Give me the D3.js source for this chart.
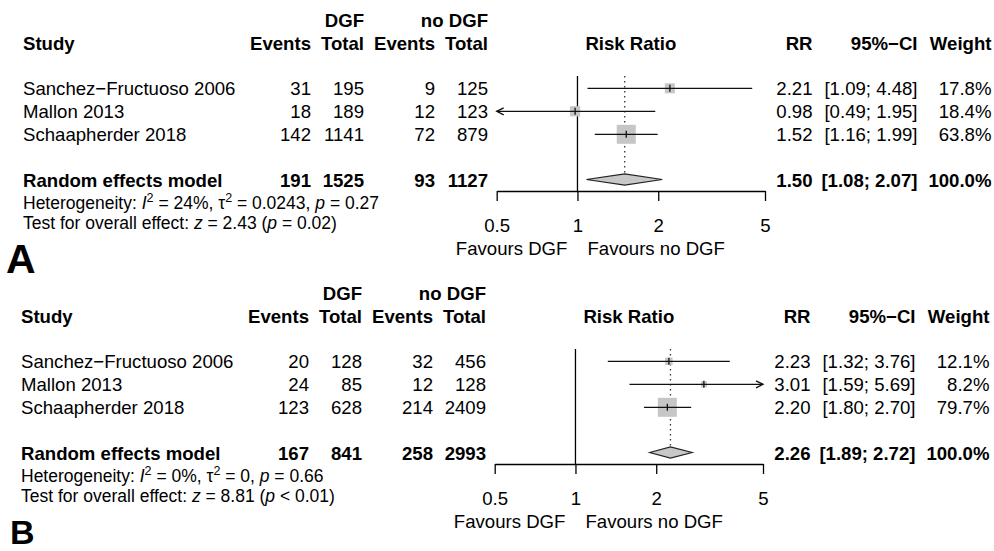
<!DOCTYPE html>
<html>
<head>
<meta charset="utf-8">
<script src="https://cdn.jsdelivr.net/npm/d3@7"></script>
<style>
  body { margin: 0; background: #fff; }
  text { font-family: "Liberation Sans", Arial, Helvetica, sans-serif; fill: #000; }
</style>
</head>
<body>
<div id="chart"></div>
<script>
const width = 994, height = 551;

// ---- data ----
const studies = ["Sanchez\u2212Fructuoso 2006", "Mallon 2013", "Schaapherder 2018"];
const rrTicks = [0.5, 1, 2, 5];

// panel A
const aEventsDGF = [31, 18, 142], aTotalDGF = [195, 189, 1141];
const aEventsNo = [9, 12, 72], aTotalNo = [125, 123, 879];
const aRR = [2.21, 0.98, 1.52], aLower = [1.09, 0.49, 1.16], aUpper = [4.48, 1.95, 1.99];
const aWeight = [17.8, 18.4, 63.8];
const aPooled = {eventsDGF: 191, totalDGF: 1525, eventsNo: 93, totalNo: 1127, rr: 1.50, lower: 1.08, upper: 2.07, weight: 100.0};
const aHet = {i2: "24%", tau2: "0.0243", p: "= 0.27", z: "2.43", pz: "= 0.02"};

// panel B
const bEventsDGF = [20, 24, 123], bTotalDGF = [128, 85, 628];
const bEventsNo = [32, 12, 214], bTotalNo = [456, 128, 2409];
const bRR = [2.23, 3.01, 2.20], bLower = [1.32, 1.59, 1.80], bUpper = [3.76, 5.69, 2.70];
const bWeight = [12.1, 8.2, 79.7];
const bPooled = {eventsDGF: 167, totalDGF: 841, eventsNo: 258, totalNo: 2993, rr: 2.26, lower: 1.89, upper: 2.72, weight: 100.0};
const bHet = {i2: "0%", tau2: "0", p: "= 0.66", z: "8.81", pz: "< 0.01"};

const svg = d3.select("#chart").append("svg")
  .attr("width", width)
  .attr("height", height);

const fs = 18.6, fsHet = 17.5;
const cols = {study: 23, eventsDGF: 311, totalDGF: 364, eventsNo: 435, totalNo: 488, rr: 812.5, ci: 917.5, weight: 991.5};
const x = d3.scaleLog().domain([0.5, 5]).range([496.7, 765]);
const y = d3.scaleLinear().domain([0, 4]).range([88.3, 180.3]);
const axisY = 191;
const f2 = d3.format(".2f"), f1 = d3.format(".1f");

function drawPanel(dx, dy, p) {
  const g = svg.append("g").attr("transform", `translate(${dx},${dy})`);

  const txt = (xx, yy, s, anchor, bold, size) => g.append("text")
    .attr("x", xx).attr("y", yy)
    .attr("text-anchor", anchor || "start")
    .attr("font-weight", bold ? "bold" : "normal")
    .attr("font-size", size || fs)
    .text(s);

  // headers
  txt(cols.totalDGF, 27.3, "DGF", "end", true);
  txt(cols.totalNo, 27.3, "no DGF", "end", true);
  txt(cols.study, 50, "Study", "start", true);
  txt(cols.eventsDGF, 50, "Events", "end", true);
  txt(cols.totalDGF, 50, "Total", "end", true);
  txt(cols.eventsNo, 50, "Events", "end", true);
  txt(cols.totalNo, 50, "Total", "end", true);
  txt((x(0.5) + x(5)) / 2, 50, "Risk Ratio", "middle", true);
  txt(cols.rr, 50, "RR", "end", true);
  txt(cols.ci, 50, "95%\u2212CI", "end", true);
  txt(cols.weight, 50, "Weight", "end", true);

  // study rows
  studies.forEach((s, i) => {
    const yb = y(i) + 6.6;
    txt(cols.study, yb, s);
    txt(cols.eventsDGF, yb, p.eventsDGF[i], "end");
    txt(cols.totalDGF, yb, p.totalDGF[i], "end");
    txt(cols.eventsNo, yb, p.eventsNo[i], "end");
    txt(cols.totalNo, yb, p.totalNo[i], "end");
    txt(cols.rr, yb, f2(p.rr[i]), "end");
    txt(cols.ci, yb, `[${f2(p.lower[i])}; ${f2(p.upper[i])}]`, "end");
    txt(cols.weight, yb, f1(p.weight[i]) + "%", "end");
  });

  // pooled row
  const q = p.pooled, yp = y(4) + 6.6;
  txt(cols.study, yp, "Random effects model", "start", true);
  txt(cols.eventsDGF, yp, q.eventsDGF, "end", true);
  txt(cols.totalDGF, yp, q.totalDGF, "end", true);
  txt(cols.eventsNo, yp, q.eventsNo, "end", true);
  txt(cols.totalNo, yp, q.totalNo, "end", true);
  txt(cols.rr, yp, f2(q.rr), "end", true);
  txt(cols.ci, yp, `[${f2(q.lower)}; ${f2(q.upper)}]`, "end", true);
  txt(cols.weight, yp, f1(q.weight) + "%", "end", true);

  // heterogeneity text
  const h = p.het;
  const t1 = g.append("text").attr("x", cols.study).attr("y", 208.8).attr("font-size", fsHet);
  t1.append("tspan").text("Heterogeneity: ");
  t1.append("tspan").attr("font-style", "italic").text("I");
  t1.append("tspan").attr("font-size", 12.5).attr("dy", -7).text("2");
  t1.append("tspan").attr("dy", 7).text(` = ${h.i2}, \u03c4`);
  t1.append("tspan").attr("font-size", 12.5).attr("dy", -7).text("2");
  t1.append("tspan").attr("dy", 7).text(` = ${h.tau2}, `);
  t1.append("tspan").attr("font-style", "italic").text("p");
  t1.append("tspan").text(` ${h.p}`);

  const t2 = g.append("text").attr("x", cols.study).attr("y", 228.8).attr("font-size", fsHet);
  t2.append("tspan").text("Test for overall effect: ");
  t2.append("tspan").attr("font-style", "italic").text("z");
  t2.append("tspan").text(` = ${h.z} (`);
  t2.append("tspan").attr("font-style", "italic").text("p");
  t2.append("tspan").text(` ${h.pz})`);

  // reference lines
  const topY = y(0) - 12.3;
  g.append("line")
    .attr("x1", x(1)).attr("x2", x(1))
    .attr("y1", topY).attr("y2", axisY)
    .attr("stroke", "#000").attr("stroke-width", 1.3);
  g.append("line")
    .attr("x1", x(q.rr)).attr("x2", x(q.rr))
    .attr("y1", topY).attr("y2", y(4) - 6)
    .attr("stroke", "#333").attr("stroke-width", 1.3)
    .attr("stroke-dasharray", "1.6,3.4");

  // squares, CI lines
  const maxW = d3.max(p.weight);
  studies.forEach((s, i) => {
    const cy = y(i), cx = x(p.rr[i]);
    const sz = 19 * Math.sqrt(p.weight[i] / maxW);
    g.append("rect")
      .attr("x", cx - sz / 2).attr("y", cy - sz / 2)
      .attr("width", sz).attr("height", sz)
      .attr("fill", "#c6c6c6");
    const lo = Math.max(p.lower[i], 0.5), hi = Math.min(p.upper[i], 5);
    g.append("line")
      .attr("x1", x(lo)).attr("x2", x(hi))
      .attr("y1", cy).attr("y2", cy)
      .attr("stroke", "#111").attr("stroke-width", 1.3);
    g.append("line")
      .attr("x1", cx).attr("x2", cx)
      .attr("y1", cy - 3.5).attr("y2", cy + 3.5)
      .attr("stroke", "#111").attr("stroke-width", 1.3);
    if (p.lower[i] < 0.5) {
      const ax = x(0.5);
      g.append("path")
        .attr("d", `M${ax + 7},${cy - 3.5} L${ax},${cy} L${ax + 7},${cy + 3.5}`)
        .attr("fill", "none").attr("stroke", "#111").attr("stroke-width", 1.3);
    }
    if (p.upper[i] > 5) {
      const ax = x(5);
      g.append("path")
        .attr("d", `M${ax - 7},${cy - 3.5} L${ax},${cy} L${ax - 7},${cy + 3.5}`)
        .attr("fill", "none").attr("stroke", "#111").attr("stroke-width", 1.3);
    }
  });

  // pooled diamond
  const dyp = y(4) - 0.8;
  g.append("path")
    .attr("d", `M${x(q.lower)},${dyp} L${x(q.rr)},${dyp - 5.6} L${x(q.upper)},${dyp} L${x(q.rr)},${dyp + 5.6} Z`)
    .attr("fill", "#c8c8c8").attr("stroke", "#222").attr("stroke-width", 1.2);

  // axis
  const axis = d3.axisBottom(x)
    .tickValues(rrTicks)
    .tickFormat(d => String(d))
    .tickSize(10)
    .tickSizeOuter(0)
    .tickPadding(17.5);
  const ag = g.append("g").attr("transform", `translate(0,${axisY})`).call(axis);
  ag.select(".domain").attr("stroke", "#000").attr("stroke-width", 1.3);
  ag.selectAll(".tick line").attr("stroke", "#000").attr("stroke-width", 1.3);
  ag.selectAll(".tick text")
    .attr("font-size", fs)
    .attr("font-family", "\"Liberation Sans\", Arial, sans-serif")
    .attr("fill", "#000");

  txt(x(1) - 10, 254.9, "Favours DGF", "end");
  txt(x(1) + 10, 254.9, "Favours no DGF", "start");
}

drawPanel(0, 0, {
  eventsDGF: aEventsDGF, totalDGF: aTotalDGF, eventsNo: aEventsNo, totalNo: aTotalNo,
  rr: aRR, lower: aLower, upper: aUpper, weight: aWeight, pooled: aPooled, het: aHet
});
drawPanel(-2, 273, {
  eventsDGF: bEventsDGF, totalDGF: bTotalDGF, eventsNo: bEventsNo, totalNo: bTotalNo,
  rr: bRR, lower: bLower, upper: bUpper, weight: bWeight, pooled: bPooled, het: bHet
});

// panel letters
svg.append("text").attr("x", 6).attr("y", 272.5)
  .attr("font-size", 41).attr("font-weight", "bold").text("A");
svg.append("text").attr("x", 10).attr("y", 544)
  .attr("font-size", 34).attr("font-weight", "bold").text("B");
</script>
</body>
</html>
